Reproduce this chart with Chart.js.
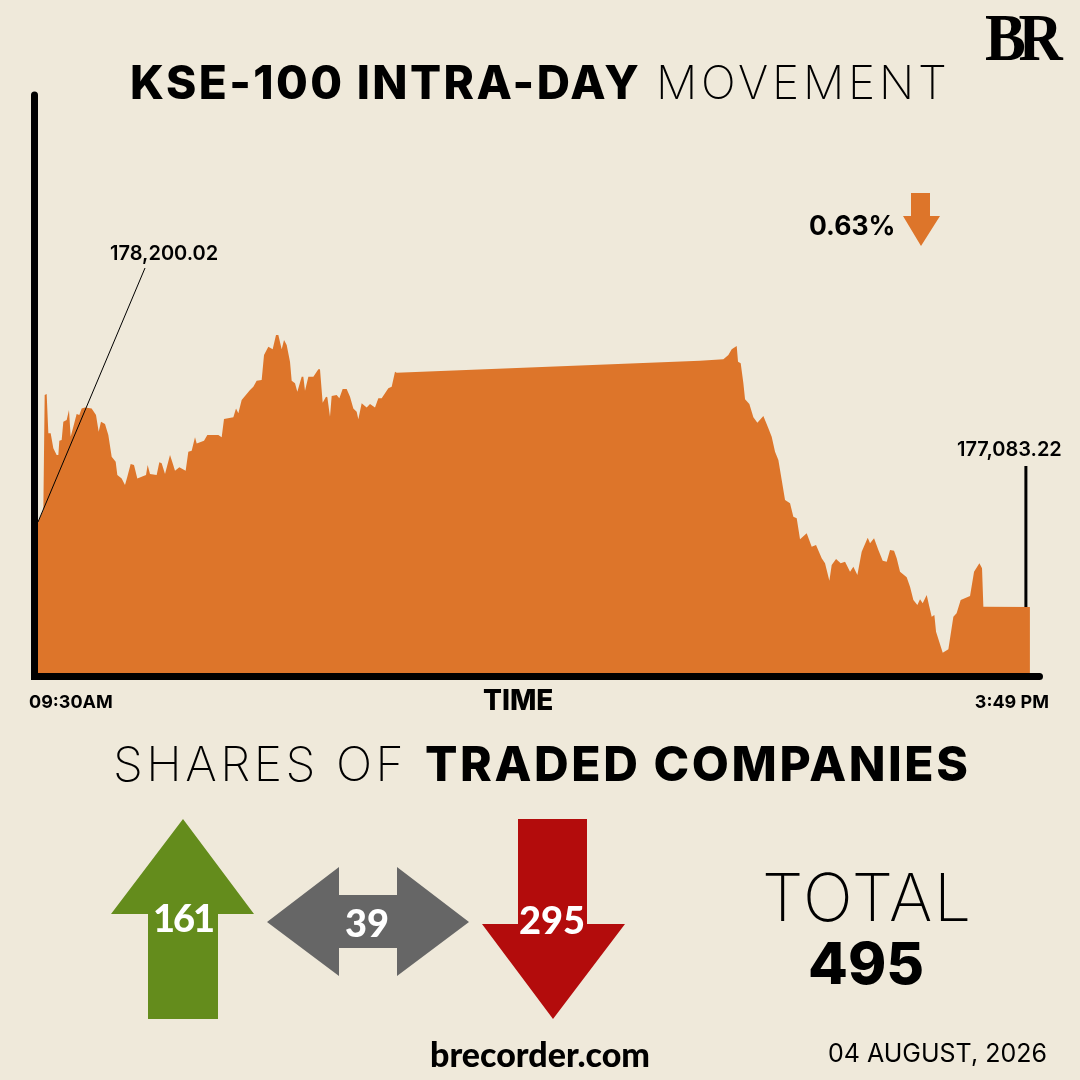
<!DOCTYPE html>
<html lang="en">
<head>
  <meta charset="UTF-8">
  <title>KSE-100 Intra-day Movement</title>
  <script src="https://cdn.jsdelivr.net/npm/chart.js"></script>
  <style>
    html, body { margin: 0; padding: 0; background: #efe9da; }
    #page { position: relative; width: 1080px; height: 1080px; overflow: hidden; background: #efe9da; font-family: Inter, sans-serif; color: #000; }
    #chartBox { position: absolute; left: 0; top: 0; width: 1080px; height: 1080px; }
    #shapes { position: absolute; left: 0; top: 0; }
    .t { position: absolute; white-space: nowrap; line-height: 1; }
    .b { font-weight: 800; }
    .l { font-weight: 200; }
    .n { font-family: Lato, sans-serif; font-weight: 900; color: #fff; transform: translate(-50%, -50%); }
  </style>
</head>
<body>
<div id="page">
  <div id="chartBox"><canvas id="graficoKse"></canvas></div>

  <svg id="shapes" width="1080" height="1080">
    <polygon fill="#dd752a" points="911,193 930,193 930,216 940,216 921,246 903,216 911,216"/>
    <polygon fill="#648c1c" points="183,819 254,914 218,914 218,1019 148,1019 148,914 111,914"/>
    <polygon fill="#666666" points="267,922 339,867 339,895 397,895 397,867 469,922 397,976 397,948 339,948 339,976"/>
    <polygon fill="#b30c0c" points="518,819 587,819 587,924 625,924 553,1019 482,924 518,924"/>
  </svg>

  <div class="t b" style="left:130px;top:59px;font-size:46px;letter-spacing:2.4px">KSE-100 INTRA-DAY</div>
  <div class="t l" style="left:656px;top:59px;font-size:46px;letter-spacing:3.8px">MOVEMENT</div>
  <div class="t" style="left:985px;top:-2px;font:bold 68px 'Liberation Serif',serif;letter-spacing:-8px;transform:scaleX(.9);transform-origin:left top">BR</div>

  <div class="t" style="left:110px;top:243px;font-size:20px;font-weight:600" id="lblOpen"></div>
  <div class="t" style="left:957px;top:439px;font-size:20px;font-weight:600" id="lblClose"></div>
  <div class="t" style="left:809px;top:212px;font-size:26.5px;font-weight:700" id="lblChange"></div>
  <div class="t b" style="left:483px;top:686px;font-size:28px">TIME</div>

  <div class="t l" style="left:113px;top:740px;font-size:48px;letter-spacing:3.5px">SHARES OF</div>
  <div class="t b" style="left:425px;top:740px;font-size:48px;letter-spacing:2.6px">TRADED COMPANIES</div>

  <div class="t n" style="left:183px;top:917px;font-size:38px;letter-spacing:-2px" id="numUp"></div>
  <div class="t n" style="left:367px;top:922px;font-size:38px" id="numSame"></div>
  <div class="t n" style="left:552px;top:919px;font-size:38px" id="numDown"></div>

  <div class="t l" style="left:762px;top:864px;font-size:66px;letter-spacing:1.6px">TOTAL</div>
  <div class="t b" style="left:808px;top:934px;font-size:58px" id="numTotal"></div>

  <div class="t" style="left:430px;top:1033px;font:900 34px Lato,sans-serif">brecorder.com</div>
  <div class="t" style="left:828px;top:1041px;font-size:25px">04 AUGUST, 2026</div>
</div>

<script>
  // minutes after the 09:30 open
  const minutos = [0, 2.04, 2.55, 3.31, 3.95, 4.84, 5.86, 7.13, 7.77, 8.15, 9.04, 9.68, 10.95, 11.84, 12.48, 13.5, 14.77, 15.79, 16.68, 17.96, 20.5, 22.16, 23.18, 24.07, 25.6, 26.87, 28.15, 29.68, 30.31, 31.97, 33.24, 34.13, 35.41, 36.68, 37.95, 39.61, 41.27, 41.9, 42.79, 45.34, 46.36, 47.25, 48.53, 50.44, 51.46, 52.35, 54, 56.42, 57.44, 58.72, 59.99, 60.63, 63.43, 64.7, 68.91, 70.18, 71.07, 74.64, 75.66, 76.55, 77.82, 81.01, 82.28, 83.55, 85.46, 86.36, 88.01, 89.67, 90.94, 91.83, 93.11, 94, 95.02, 96.29, 96.93, 98.2, 99.09, 100.75, 101.38, 102.02, 103.3, 105.21, 107.12, 107.75, 108.77, 110.05, 110.56, 111.57, 112.21, 114.12, 115.14, 116.41, 117.94, 119.22, 120.49, 121.76, 122.4, 123.67, 125.58, 126.86, 128.77, 130.04, 131.32, 133.86, 135.14, 136.41, 137.05,
    252.96, 261.88, 263.79, 265.06, 266.97, 267.48, 268.5, 269.52, 270.16, 271.81, 273.34, 274.87, 277.16, 279.07, 280.34, 281.62, 282.89, 284.17, 285.44, 287.35, 288.62, 289.9, 291.17, 293.72, 295.63, 297.28, 299.45, 300.72, 302.38, 303.27, 304.93, 306.71, 308.37, 310.28, 311.55, 313.08, 314.73, 317.03, 317.92, 319.45, 321.1, 322.76, 324.29, 325.56, 327.09, 328.11, 329.38, 331.93, 333.2, 334.48, 336, 337.02, 338.04, 339.57, 340.59, 341.48, 342.5, 343.14, 345.69, 347.85, 349.76, 350.99, 352.56, 356.13, 357.66, 359.7, 360.71, 361.22, 379];

  const indice = [178200.02, 178357, 179868, 179882, 179365, 179365, 179168, 179080, 179080, 179268, 179277, 179518, 179540, 179671, 179321, 179452, 179619, 179606, 179693, 179706, 179693, 179606, 179387, 179518, 179487, 179343, 179058, 178992, 178817, 178773, 178686, 178795, 178962, 178949, 178773, 178795, 178817, 178949, 178830, 178817, 178984, 178971, 178830, 179080, 178971, 178874, 178918, 178874, 179124, 179137, 179312, 179233, 179268, 179343, 179343, 179312, 179553, 179575, 179693, 179628, 179803, 179934, 179978, 180057, 180066, 180394, 180504, 180469, 180657, 180657, 180469, 180591, 180525, 180306, 180057, 180022, 179912, 180109, 180109, 179925, 180109, 180109, 180206, 180206, 179768, 179847, 179838, 179584, 179855, 179868, 179825, 179947, 179947, 179847, 179693, 179649, 179549, 179759, 179706, 179750, 179706, 179825, 179825, 179956, 179978, 180175, 180162,
    180320, 180338, 180394, 180469, 180513, 180307, 180285, 180022, 179812, 179751, 179575, 179505, 179593, 179431, 179321, 179124, 179015, 178752, 178489, 178445, 178270, 178248, 177972, 178051, 177876, 177898, 177723, 177657, 177429, 177635, 177714, 177657, 177679, 177547, 177613, 177504, 177810, 177994, 177920, 177985, 177832, 177692, 177679, 177832, 177823, 177723, 177547, 177473, 177350, 177175, 177109, 177184, 177131, 177241, 177088, 176956, 176978, 176759, 176483, 176527, 176956, 177000, 177175, 177228, 177547, 177657, 177591, 177088, 177083.22];

  const rotulosTempo = ['09:30AM', '3:49 PM'];
  const rotuloAbertura = '178,200.02';
  const rotuloFechamento = '177,083.22';
  const variacao = '0.63%';
  const empresas = [161, 39, 295];
  const totalEmpresas = 495;

  document.getElementById('lblOpen').textContent = rotuloAbertura;
  document.getElementById('lblClose').textContent = rotuloFechamento;
  document.getElementById('lblChange').textContent = variacao;
  document.getElementById('numUp').textContent = empresas[0];
  document.getElementById('numSame').textContent = empresas[1];
  document.getElementById('numDown').textContent = empresas[2];
  document.getElementById('numTotal').textContent = totalEmpresas;

  // thick rounded axes and the two thin callout lines
  const eixos = {
    id: 'eixos',
    afterDatasetsDraw(chart) {
      const ctx = chart.ctx;
      const x = chart.scales.x, y = chart.scales.y;
      ctx.save();
      ctx.strokeStyle = '#000';
      ctx.lineCap = 'round';
      ctx.lineWidth = 7;
      ctx.beginPath();
      ctx.moveTo(34.5, y.top + 3);
      ctx.lineTo(34.5, y.bottom + 3.5);
      ctx.lineTo(x.right - 9.5, y.bottom + 3.5);
      ctx.stroke();

      ctx.lineCap = 'butt';
      ctx.lineWidth = 1;
      ctx.beginPath();
      ctx.moveTo(x.getPixelForValue(minutos[0]), y.getPixelForValue(indice[0]));
      ctx.lineTo(145, 268);
      ctx.stroke();

      const ultimo = minutos.length - 1;
      ctx.lineWidth = 3;
      ctx.beginPath();
      ctx.moveTo(x.getPixelForValue(minutos[ultimo]) - 4, y.getPixelForValue(indice[ultimo]));
      ctx.lineTo(x.getPixelForValue(minutos[ultimo]) - 4, 466);
      ctx.stroke();
      ctx.restore();
    }
  };

  new Chart(document.getElementById('graficoKse'), {
    type: 'line',
    data: {
      datasets: [{
        label: 'KSE-100',
        data: minutos.map((m, i) => ({ x: m, y: indice[i] })),
        borderWidth: 0,
        pointRadius: 0,
        tension: 0,
        fill: 'start',
        backgroundColor: '#dd752a'
      }]
    },
    options: {
      responsive: true,
      maintainAspectRatio: false,
      animation: false,
      layout: { padding: { left: 29, right: 31, top: 92, bottom: 367 } },
      plugins: { legend: { display: false }, tooltip: { enabled: false } },
      scales: {
        x: {
          type: 'linear',
          min: -3.44,
          max: 386.3,
          grid: { display: false },
          border: { display: false },
          afterBuildTicks: s => { s.ticks = [{ value: s.min }, { value: s.max }]; },
          afterFit: s => { s.height = 40; },
          ticks: {
            autoSkip: false,
            maxRotation: 0,
            align: 'inner',
            padding: 11,
            color: '#000',
            font: { family: 'Inter', weight: '700', size: 18 },
            callback: (v, i) => rotulosTempo[i]
          }
        },
        y: {
          display: false,
          min: 176216,
          max: 183850
        }
      }
    },
    plugins: [eixos]
  });
</script>
</body>
</html>
